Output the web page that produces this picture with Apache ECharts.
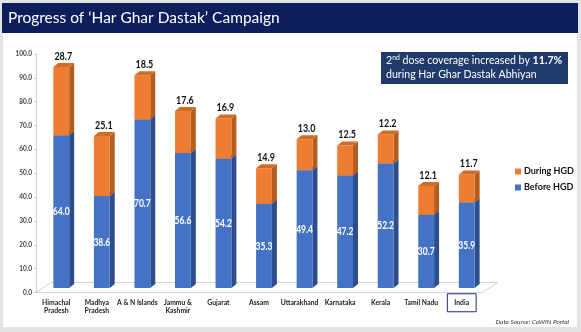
<!DOCTYPE html>
<html><head><meta charset="utf-8">
<script src="https://cdn.jsdelivr.net/npm/echarts@6/dist/echarts.min.js"></script>
<style>html,body{margin:0;padding:0;background:#e4e4e4;}#c{width:581px;height:332px;}</style>
</head><body><div id="c"></div>
<script>
const categories = ['Himachal\nPradesh','Madhya\nPradesh','A & N Islands','Jammu &\nKashmir','Gujarat','Assam','Uttarakhand','Karnataka','Kerala','Tamil Nadu','India'];
const beforeHGD = [64.0, 38.6, 70.7, 56.6, 54.2, 35.3, 49.4, 47.2, 52.2, 30.7, 35.9];
const duringHGD = [28.7, 25.1, 18.5, 17.6, 16.9, 14.9, 13.0, 12.5, 12.2, 12.1, 11.7];
const yTicks = [0,10,20,30,40,50,60,70,80,90,100];

const DX = 5, DY = 4.5;   // perspective shift of bars (mid-depth of floor)
const SD = 5, SH = 4;     // depth of prism
function makeRender(front, side, topc, labelMode){
  return function(params, api){
    const i = api.value(0), base = api.value(1), top = api.value(2), lab = api.value(3);
    const p0 = api.coord([i, base]), p1 = api.coord([i, top]);
    const w = api.size([1,0])[0]*0.39;
    const cx = p0[0] + DX;
    const yb = p0[1] - DY, yt = p1[1] - DY;
    const x0 = cx - w/2, x1 = cx + w/2;
    const ch = [
      {type:'polygon', shape:{points:[[x1,yb],[x1+SD,yb-SH],[x1+SD,yt-SH],[x1,yt]]}, style:{fill:side}},
      {type:'rect', shape:{x:x0,y:yt,width:w,height:yb-yt}, style:{fill:front}},
      {type:'polygon', shape:{points:[[x0,yt],[x0+SD,yt-SH],[x1+SD,yt-SH],[x1,yt]]}, style:{fill:topc}}
    ];
    if (labelMode === 'inside') {
      ch.push({type:'text', x:cx, y:(yb+yt)/2, scaleX:0.74,
        style:{text:lab.toFixed(1), x:0, y:0, align:'center', verticalAlign:'middle',
        fill:'#ffffff', font:'bold 11.5px Lato'}});
    } else {
      ch.push({type:'text', x:cx+2, y:yt-SH-1, scaleX:0.78,
        style:{text:lab.toFixed(1), x:0, y:0, align:'center', verticalAlign:'bottom',
        fill:'#111111', font:'bold 11.5px Lato'}});
    }
    return {type:'group', children: ch};
  };
}
const beforeData = beforeHGD.map((v,i)=>[i, 0, v, v]);
const duringData = duringHGD.map((v,i)=>[i, beforeHGD[i], beforeHGD[i]+v, v]);

const chart = echarts.init(document.getElementById('c'));
chart.setOption({
  animation:false,
  backgroundColor:'#e4e4e4',
  graphic:[
    {type:'rect', shape:{x:3,y:3,width:574,height:324}, style:{fill:'#ffffff'}, z:-10},
    {type:'rect', shape:{x:2,y:3,width:576,height:30}, style:{fill:'#0c1f5c'}},
    {type:'text', style:{text:'Progress of \u2018Har Ghar Dastak\u2019 Campaign', x:8, y:18, verticalAlign:'middle',
      fill:'#ffffff', font:'15.5px Lato'}},
    {type:'rect', shape:{x:381,y:52,width:187,height:32}, style:{fill:'#1f3a6b'}},
    {type:'text', style:{x:386, y:68, verticalAlign:'middle', fill:'#ffffff',
      text:'{n|2}{sup|nd}{n| dose coverage increased by }{b|11.7%}\n{n|during Har Ghar Dastak Abhiyan}',
      rich:{n:{fontSize:10.6, fontFamily:'Lato', fill:'#ffffff', lineHeight:14},
            sup:{fontSize:6.8, fontFamily:'Lato', fill:'#ffffff', lineHeight:14, verticalAlign:'top'},
            b:{fontSize:10.6, fontFamily:'Lato', fontWeight:'bold', fill:'#ffffff', lineHeight:14}}}},
    {type:'polyline', shape:{points:[[36,292.5],[482,292.5],[498,282.5],[51,282.5],[36,292.5]]},
      style:{stroke:'#d4d4d4', lineWidth:1, fill:null}, z:-1},
    {type:'text', style:{text:'Data Source: CoWIN Portal', x:569, y:322, align:'right', verticalAlign:'middle',
      fill:'#333333', font:'italic 6.5px Lato'}}
  ],
  grid:{left:36, right:99, top:54, bottom:39.5},
  legend:{orient:'vertical', left:510, top:162, itemWidth:6, itemHeight:6, itemGap:7, icon:'rect',
    data:['During HGD','Before HGD'], textStyle:{fontSize:9, fontWeight:'bold', fontFamily:'Lato', color:'#111', padding:[0,0,0,-2]}},
  xAxis:{type:'category', data:categories,
    axisLine:{show:false}, axisTick:{show:false},
    axisLabel:{interval:0, margin:6, fontSize:6.8, fontWeight:'bold', fontFamily:'Lato', color:'#222', lineHeight:8.5,
      formatter:(v)=> v==='India' ? '{box|India}' : v,
      rich:{box:{borderColor:'#1f2f6b', borderWidth:1, padding:[6,7,5,7], fontSize:6.8, fontWeight:'bold', fontFamily:'Lato', color:'#222'}}}},
  yAxis:{type:'value', min:yTicks[0], max:yTicks[yTicks.length-1], interval:10,
    splitLine:{show:false},
    axisLine:{show:true, lineStyle:{color:'#d0d0d0'}},
    axisTick:{show:true, length:2, lineStyle:{color:'#d0d0d0'}},
    axisLabel:{formatter:(v)=>v.toFixed(1), fontSize:6.5, fontWeight:'bold', fontFamily:'Lato', color:'#444', margin:4}},
  series:[
    {name:'Before HGD', type:'custom', data:beforeData, itemStyle:{color:'#4472c4'},
      renderItem: makeRender('#4472c4','#2c4e8c','#3a64b4','inside'), encode:{x:0,y:[1,2]}},
    {name:'During HGD', type:'custom', data:duringData, itemStyle:{color:'#ed7d31'},
      renderItem: makeRender('#ed7d31','#b55d1e','#d26b24','top'), encode:{x:0,y:[1,2]}}
  ]
});
</script></body></html>
